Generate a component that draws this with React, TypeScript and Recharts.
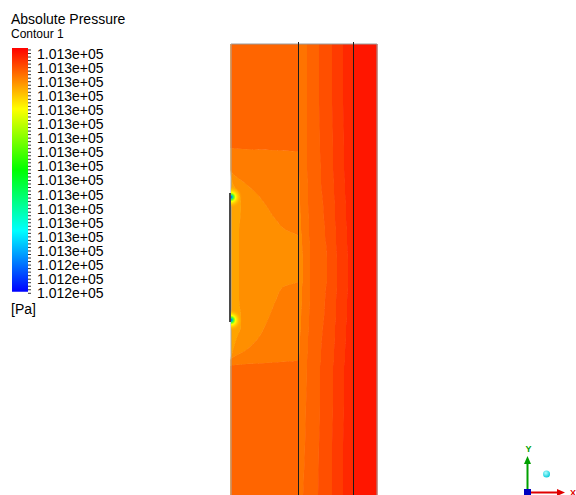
import React from 'react';
import { ComposedChart, Area, XAxis, YAxis, ReferenceLine, ReferenceDot, BarChart, Bar } from 'recharts';

// depth below the top wall of the domain (1 unit ~ 1 px)
const rowDepth = [0, 60, 104, 108, 126, 140, 150, 160, 176, 186, 192, 200, 215, 230, 237, 243, 256, 273, 282, 293, 306, 316, 322, 360, 400, 451];

// left zone (0..68): right edges of the contour bands
const glowEdge = [0, 0, 0, 0, 0, 2, 8, 10, 9, 8, 8, 8, 8, 8, 8, 8, 8, 10, 10, 6, 2, 0, 0, 0, 0, 0];
const amberEdge = [0, 0, 0, 0, 0, 15, 26, 34, 45, 55, 67, 68, 68, 68, 68, 52, 45, 38, 34, 28, 15, 0, 0, 0, 0, 0];
const lightEdge = [0, 0, 0, 68, 68, 68, 68, 68, 68, 68, 68, 68, 68, 68, 68, 68, 68, 68, 68, 68, 68, 68, 0, 0, 0, 0];

// middle zone (68..123): band edges
const stripeEdge = [68, 68, 68, 68, 68, 69, 69, 69, 70, 70, 71, 71, 72, 72, 72, 71, 71, 70, 70, 69, 69, 68, 68, 68, 68, 68];
const band1Edge = [76, 76, 76, 76, 76, 77, 77, 77, 78, 78, 78, 79, 79, 79, 79, 79, 79, 78, 78, 77, 77, 76, 76, 75, 74, 72];
const band2Edge = [88, 88, 89, 89, 90, 90, 91, 92, 93, 94, 94, 95, 96, 96, 96, 95, 94, 93, 92, 91, 90, 90, 89, 89, 88, 87];
const band3Edge = [101, 101, 102, 102, 102, 103, 103, 104, 104, 105, 105, 105, 106, 106, 106, 106, 105, 105, 104, 104, 103, 103, 102, 102, 101, 101];
const band4Edge = [112, 112, 113, 113, 113, 114, 114, 115, 115, 116, 116, 116, 117, 117, 117, 117, 116, 116, 115, 115, 114, 114, 113, 113, 112, 112];

const leftWall = 68;
const rightWall = 123;
const outerWall = 146;
const slotTop = 149;
const slotBottom = 278;
const hotSpots = [153, 276];

const legendLabels = [
  '1.013e+05', '1.013e+05', '1.013e+05', '1.013e+05', '1.013e+05', '1.013e+05',
  '1.013e+05', '1.013e+05', '1.013e+05', '1.013e+05', '1.013e+05', '1.013e+05',
  '1.013e+05', '1.013e+05', '1.013e+05', '1.012e+05', '1.012e+05', '1.012e+05',
];

const bands = [
  { key: 'glow', color: '#FFA400' },
  { key: 'amber', color: '#FF8F00' },
  { key: 'light', color: '#FF7C00' },
  { key: 'base', color: '#FF6500' },
  { key: 'stripe', color: '#FF8A00' },
  { key: 'm1', color: '#FF7300' },
  { key: 'm2', color: '#FF6300' },
  { key: 'm3', color: '#FF4F00' },
  { key: 'm4', color: '#FF3B00' },
  { key: 'm5', color: '#FF2800' },
  { key: 'outer', color: '#FF1600' },
];

const rows = rowDepth.map((u, i) => ({
  u,
  glow: glowEdge[i],
  amber: amberEdge[i] - glowEdge[i],
  light: lightEdge[i] - amberEdge[i],
  base: leftWall - lightEdge[i],
  stripe: stripeEdge[i] - leftWall,
  m1: band1Edge[i] - stripeEdge[i],
  m2: band2Edge[i] - band1Edge[i],
  m3: band3Edge[i] - band2Edge[i],
  m4: band4Edge[i] - band3Edge[i],
  m5: rightWall - band4Edge[i],
  outer: outerWall - rightWall,
}));

const font = '"Liberation Sans", Arial, sans-serif';

const barLow = -0.39;
const barHigh = 16.89;
const legendData = [{ name: 'p', span: [barLow, barHigh] }];
const legendTicks: number[] = [];
for (let v = -0.25; v <= 17; v += 0.25) legendTicks.push(v);

const HotSpot = (props: any) => {
  const { cx, cy } = props;
  const r = 11;
  const id = `hot-${Math.round(cy)}`;
  return (
    <g>
      <defs>
        <radialGradient id={id} gradientUnits="userSpaceOnUse" cx={cx} cy={cy} r={r}>
          <stop offset="0%" stopColor="#0050ff" />
          <stop offset="14%" stopColor="#00d0b0" />
          <stop offset="26%" stopColor="#60ff20" />
          <stop offset="42%" stopColor="#ffff00" />
          <stop offset="65%" stopColor="#ffcc00" stopOpacity={0.85} />
          <stop offset="100%" stopColor="#ffa400" stopOpacity={0} />
        </radialGradient>
      </defs>
      <path d={`M${cx},${cy - r} A${r},${r} 0 0 1 ${cx},${cy + r} Z`} fill={`url(#${id})`} />
    </g>
  );
};

const LegendTick = (props: any) => {
  const { x, y, payload } = props;
  const v = payload.value;
  if (Math.abs(v - Math.round(v)) > 0.01 || v < 0) return <g />;
  return (
    <text x={x} y={y} dy="0.36em" textAnchor="start" fontSize={14} fontFamily={font} fill="#000">
      {legendLabels[Math.round(v)]}
    </text>
  );
};

export default function App() {
  return (
    <div style={{ position: 'absolute', left: 0, top: 0, width: 576, height: 495, overflow: 'hidden', background: '#fff', fontFamily: font }}>
      <div style={{ position: 'absolute', left: 11, top: 11, fontSize: 14, lineHeight: '16px', color: '#000' }}>Absolute Pressure</div>
      <div style={{ position: 'absolute', left: 11, top: 27, fontSize: 12, lineHeight: '14px', color: '#000' }}>Contour 1</div>
      <div style={{ position: 'absolute', left: 11, top: 301, fontSize: 14, lineHeight: '16px', color: '#000' }}>[Pa]</div>

      <div style={{ position: 'absolute', left: 0, top: 0 }}>
        <BarChart width={120} height={300} data={legendData} margin={{ top: 48, right: 12, bottom: 6, left: 12 }} barCategoryGap={0} barGap={0}>
          <defs>
            <linearGradient id="rainbow" x1="0" y1="0" x2="0" y2="1">
              <stop offset="0%" stopColor="#ff0000" />
              <stop offset="12.5%" stopColor="#ff8000" />
              <stop offset="25%" stopColor="#ffff00" />
              <stop offset="37.5%" stopColor="#80ff00" />
              <stop offset="50%" stopColor="#00ff00" />
              <stop offset="62.5%" stopColor="#00ff80" />
              <stop offset="75%" stopColor="#00ffff" />
              <stop offset="87.5%" stopColor="#0080ff" />
              <stop offset="100%" stopColor="#0000ff" />
            </linearGradient>
          </defs>
          <XAxis dataKey="name" type="category" hide />
          <YAxis
            type="number"
            orientation="right"
            domain={[barLow, 17.05]}
            reversed
            ticks={legendTicks}
            interval={0}
            width={80}
            axisLine={false}
            tickLine={{ stroke: '#333' }}
            tickSize={3}
            tickMargin={6}
            tick={<LegendTick />}
          />
          <Bar dataKey="span" fill="url(#rainbow)" isAnimationActive={false} />
        </BarChart>
      </div>

      <div style={{ position: 'absolute', left: 227, top: 42 }}>
        <ComposedChart layout="vertical" width={154} height={453} data={rows} margin={{ top: 0, right: 0, bottom: 0, left: 0 }}>
          <XAxis type="number" domain={[-4, 150]} hide />
          <YAxis type="number" dataKey="u" domain={[-2, 451]} hide />
          {bands.map((b) => (
            <Area
              key={b.key}
              type="monotone"
              dataKey={b.key}
              stackId="p"
              fill={b.color}
              fillOpacity={1}
              stroke={b.color}
              strokeWidth={1}
              dot={false}
              activeDot={false}
              isAnimationActive={false}
            />
          ))}
          {hotSpots.map((u) => (
            <ReferenceDot key={u} x={0} y={u} r={11} shape={<HotSpot />} />
          ))}
          <ReferenceLine segment={[{ x: 0, y: 0 }, { x: outerWall, y: 0 }]} stroke="#9a9a9a" />
          <ReferenceLine segment={[{ x: 0, y: 0 }, { x: 0, y: 451 }]} stroke="#a8a8a8" />
          <ReferenceLine segment={[{ x: outerWall, y: 0 }, { x: outerWall, y: 451 }]} stroke="#9a9a9a" />
          <ReferenceLine segment={[{ x: -1, y: slotTop }, { x: -1, y: slotBottom }]} stroke="#4a4a4a" strokeWidth={2} />
          <ReferenceLine x={leftWall - 0.5} stroke="#1a1a1a" />
          <ReferenceLine x={rightWall - 0.5} stroke="#1a1a1a" />
        </ComposedChart>
      </div>

      <svg style={{ position: 'absolute', left: 500, top: 430 }} width={76} height={65}>
        <defs>
          <radialGradient id="ball" cx="40%" cy="35%" r="70%">
            <stop offset="0%" stopColor="#b0ffff" />
            <stop offset="100%" stopColor="#00c8d8" />
          </radialGradient>
        </defs>
        <line x1={27.5} y1={62} x2={27.5} y2={33} stroke="#00a000" strokeWidth={2} />
        <polygon points="24,34 31,34 27.5,26" fill="#00a000" />
        <text x={28.5} y={22} textAnchor="middle" fontSize={9} fontWeight="bold" fill="#00a000" fontFamily={font}>Y</text>
        <line x1={27} y1={62.5} x2={58} y2={62.5} stroke="#e00000" strokeWidth={2} />
        <polygon points="57,59 57,66 65,62.5" fill="#e00000" />
        <text x={73} y={66} textAnchor="middle" fontSize={9} fontWeight="bold" fill="#e00000" fontFamily={font}>X</text>
        <circle cx={46.5} cy={44} r={3.5} fill="url(#ball)" />
        <rect x={24} y={59} width={7} height={7} fill="#0000c0" />
      </svg>
    </div>
  );
}
